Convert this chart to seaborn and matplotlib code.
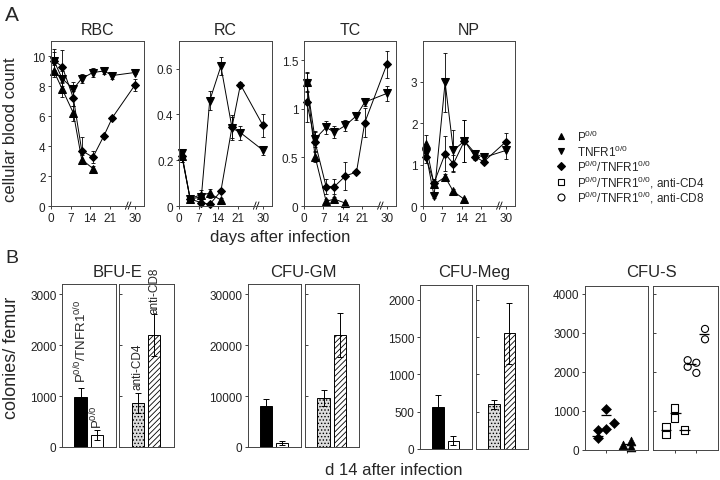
import matplotlib
matplotlib.use("Agg")
import matplotlib.pyplot as plt
from matplotlib.lines import Line2D
import seaborn as sns


# ---------------- Panel A data (days after infection) ----------------
days = [1, 4, 8, 11, 15, 19, 22, 30]
days_p00 = [1, 4, 8, 11, 15]

rbc_p00 = [9.0, 7.8, 6.2, 3.1, 2.5]
rbc_p00_err = [0.4, 0.5, 0.5, 0.3, 0.2]
rbc_tnfr = [9.7, 8.5, 7.8, 8.5, 8.9, 9.0, 8.7, 8.9]
rbc_tnfr_err = [0.6, 0.5, 0.5, 0.3, 0.3, 0.2, 0.2, 0.1]
rbc_dko = [9.7, 9.3, 7.2, 3.7, 3.25, 4.7, 5.9, 8.05]
rbc_dko_err = [0.8, 1.1, 0.5, 0.9, 0.4, 0.1, 0.1, 0.4]

rc_p00 = [0.22, 0.032, 0.05, 0.055, 0.026]
rc_p00_err = [0.03, 0.01, 0.02, 0.02, 0.01]
rc_tnfr = [0.23, 0.03, 0.04, 0.46, 0.61, 0.34, 0.32, 0.244]
rc_tnfr_err = [0.02, 0.01, 0.01, 0.04, 0.04, 0.05, 0.03, 0.02]
rc_dko = [0.22, 0.03, 0.015, 0.007, 0.065, 0.346, 0.53, 0.353]
rc_dko_err = [0.03, 0.01, 0.01, 0.005, 0.01, 0.05, 0.01, 0.05]

tc_p00 = [1.28, 0.51, 0.05, 0.07, 0.03]
tc_p00_err = [0.1, 0.06, 0.02, 0.02, 0.01]
tc_tnfr = [1.27, 0.69, 0.81, 0.76, 0.83, 0.93, 1.07, 1.16]
tc_tnfr_err = [0.1, 0.08, 0.07, 0.06, 0.06, 0.04, 0.04, 0.08]
tc_dko = [1.07, 0.66, 0.2, 0.2, 0.31, 0.35, 0.86, 1.46]
tc_dko_err = [0.2, 0.1, 0.08, 0.08, 0.14, 0.02, 0.15, 0.14]

np_p00 = [1.49, 0.52, 0.70, 0.35, 0.16]
np_p00_err = [0.22, 0.05, 0.06, 0.05, 0.03]
np_tnfr = [1.29, 0.24, 2.98, 1.34, 1.57, 1.26, 1.17, 1.34]
np_tnfr_err = [0.1, 0.05, 0.72, 0.5, 0.5, 0.08, 0.05, 0.2]
np_dko = [1.18, 0.56, 1.26, 1.02, 1.57, 1.18, 1.07, 1.55]
np_dko_err = [0.15, 0.1, 0.42, 0.2, 0.5, 0.08, 0.05, 0.22]

day_ticks = [0, 7, 14, 21, 30]

# ---------------- Panel B data (d 14 after infection) ----------------
mice = ["P0/0/TNFR1 0/0", "P0/0"]
antibodies = ["anti-CD4", "anti-CD8"]

bfu_mice = [980, 240]
bfu_mice_err = [170, 95]
bfu_ab = [860, 2200]
bfu_ab_err = [195, 420]

gm_mice = [8000, 700]
gm_mice_err = [1500, 400]
gm_ab = [9600, 22000]
gm_ab_err = [1500, 4300]

meg_mice = [560, 110]
meg_mice_err = [160, 60]
meg_ab = [600, 1550]
meg_ab_err = [60, 410]

# CFU-S single mice (column position, value) and group means
cfus_dko_x = [0.6, 0.6, 1.0, 1.0, 1.4]
cfus_dko = [300, 515, 540, 1055, 695]
cfus_p00_x = [1.8, 2.2, 2.2]
cfus_p00 = [130, 240, 85]
cfus_cd4_x = [0.6, 0.6, 1.0, 1.0, 1.45]
cfus_cd4 = [610, 395, 1075, 817, 515]
cfus_cd8_x = [1.6, 1.6, 2.0, 2.0, 2.4, 2.4]
cfus_cd8 = [2300, 2130, 2235, 1975, 3100, 2835]

cfus_mean_left_x = [0.6, 1.0, 2.0]
cfus_mean_left = [370, 885, 155]
cfus_mean_right_x = [0.6, 1.05, 1.45, 1.75, 2.35]
cfus_mean_right = [515, 955, 523, 2190, 2960]


sns.set_style("ticks")
plt.rcParams["font.family"] = ["Liberation Sans", "DejaVu Sans"]
plt.rcParams["mathtext.default"] = "regular"
plt.rcParams["hatch.linewidth"] = 0.6
plt.rcParams["axes.linewidth"] = 0.7
plt.rcParams["axes.edgecolor"] = "#444444"

W, H = 720, 481
fig = plt.figure(figsize=(7.2, 4.81), dpi=100)


def px_rect(l, t, r, b):
    return [l / W, 1 - b / H, (r - l) / W, (b - t) / H]


def style_box(ax, labels=True):
    for s in ax.spines.values():
        s.set_visible(True)
        s.set_linewidth(0.7)
    ax.tick_params(axis="both", length=2.5, width=0.6, labelsize=8.5, pad=1.5,
                   colors="#222222")
    if not labels:
        ax.tick_params(axis="y", direction="in", labelleft=False)
    ax.set_xlabel("")
    ax.set_ylabel("")


# ---------------- Panel A ----------------
panels_a = [
    ("RBC", (51, 42, 144, 207), 11.0, [0, 2, 4, 6, 8, 10], ["0", "2", "4", "6", "8", "10"],
     rbc_p00, rbc_p00_err, rbc_tnfr, rbc_tnfr_err, rbc_dko, rbc_dko_err),
    ("RC", (179, 42, 272, 207), 0.72, [0, 0.2, 0.4, 0.6], ["0", "0.2", "0.4", "0.6"],
     rc_p00, rc_p00_err, rc_tnfr, rc_tnfr_err, rc_dko, rc_dko_err),
    ("TC", (304, 42, 396, 207), 1.70, [0, 0.5, 1, 1.5], ["0", "0.5", "1", "1.5"],
     tc_p00, tc_p00_err, tc_tnfr, tc_tnfr_err, tc_dko, tc_dko_err),
    ("NP", (423, 42, 515, 207), 3.98, [0, 1, 2, 3], ["0", "1", "2", "3"],
     np_p00, np_p00_err, np_tnfr, np_tnfr_err, np_dko, np_dko_err),
]

for name, box, ytop, yt, ytl, p00, p00e, tnfr, tnfre, dko, dkoe in panels_a:
    ax = fig.add_axes(px_rect(*box))
    series = [
        (days_p00, p00, p00e, "^", 6),
        (days, tnfr, tnfre, "v", 6),
        (days, dko, dkoe, "D", 4.5),
    ]
    for xs, ys, es, mk, ms in series:
        ax.errorbar(xs, ys, yerr=es, fmt="none", ecolor="k", elinewidth=0.6,
                    capsize=1.5, capthick=0.6, clip_on=False)
        sns.lineplot(x=xs, y=ys, ax=ax, color="k", marker=mk, markersize=ms,
                     markeredgecolor="k", linewidth=0.7, clip_on=False)
    ax.set_xlim(0, 33.3)
    ax.set_ylim(0, ytop)
    ax.set_xticks(day_ticks)
    ax.set_xticklabels([str(d) for d in day_ticks])
    ax.set_yticks(yt)
    ax.set_yticklabels(ytl)
    style_box(ax)
    ax.set_title(name, fontsize=11.5, pad=5)
    # axis break marks between 21 and 30
    for dx in (0.0, 0.03):
        ax.plot([0.80 + dx, 0.83 + dx], [-0.02, 0.025], transform=ax.transAxes,
                color="k", lw=0.6, clip_on=False)

fig.text(5 / W, 1 - 6 / H, "A", fontsize=15, va="top", ha="left")
fig.text(11 / W, 1 - 130 / H, "cellular blood count", rotation=90, fontsize=12,
         ha="center", va="center")
fig.text(280 / W, 1 - 238 / H, "days after infection", fontsize=12,
         ha="center", va="center")

# legend
legend_rows = [
    ("^", "k", "P$^{0/0}$"),
    ("v", "k", "TNFR1$^{0/0}$"),
    ("D", "k", "P$^{0/0}$/TNFR1$^{0/0}$"),
    ("s", "none", "P$^{0/0}$/TNFR1$^{0/0}$, anti-CD4"),
    ("o", "none", "P$^{0/0}$/TNFR1$^{0/0}$, anti-CD8"),
]
for i, (mk, fc, lab) in enumerate(legend_rows):
    yy = 1 - (137 + i * 15.2) / H
    fig.add_artist(Line2D([561 / W], [yy], marker=mk, markersize=5 if mk != "D" else 3.8,
                          markerfacecolor=fc, markeredgecolor="k", markeredgewidth=0.8,
                          linestyle="none", transform=fig.transFigure))
    fig.text(577 / W, yy, lab, fontsize=8.5, va="center", ha="left")


# ---------------- Panel B ----------------
def bar_pair(box1, box2, top, yt, vals1, err1, vals2, err2, title):
    ax1 = fig.add_axes(px_rect(*box1))
    ax2 = fig.add_axes(px_rect(*box2))
    for ax, cats, vals, errs, faces, hatches in [
        (ax1, mice, vals1, err1, ["k", "white"], ["", ""]),
        (ax2, antibodies, vals2, err2, ["#dcdcdc", "white"], [".....", "//////"]),
    ]:
        sns.barplot(x=cats, y=vals, ax=ax, width=0.75, color="white",
                    edgecolor="k", linewidth=0.7)
        for patch, fcol, hat in zip(ax.patches, faces, hatches):
            patch.set_facecolor(fcol)
            patch.set_hatch(hat)
        ax.errorbar([0, 1], vals, yerr=errs, fmt="none", ecolor="k",
                    elinewidth=0.7, capsize=2, capthick=0.7)
        ax.set_xlim(-1.15, 2.2)
        ax.set_ylim(0, top)
        ax.set_yticks(yt)
        ax.set_xticks([])
    style_box(ax1)
    ax1.set_yticklabels([str(v) for v in yt])
    style_box(ax2, labels=False)
    cx = (box1[0] + box2[2]) / 2
    fig.text(cx / W, 1 - 273 / H, title, fontsize=12, ha="center", va="center")
    return ax1, ax2


b1, b2 = bar_pair((62, 285, 116, 448), (119, 285, 174, 448), 3200,
                  [0, 1000, 2000, 3000], bfu_mice, bfu_mice_err, bfu_ab, bfu_ab_err, "BFU-E")
b1.text(0, bfu_mice[0] + bfu_mice_err[0] + 120, "P$^{0/0}$/TNFR1$^{0/0}$", rotation=90,
        ha="center", va="bottom", fontsize=9.5)
b1.text(1, bfu_mice[1] + bfu_mice_err[1] + 40, "P$^{0/0}$", rotation=90,
        ha="center", va="bottom", fontsize=9.5)
b2.text(0, bfu_ab[0] + bfu_ab_err[0] + 80, antibodies[0], rotation=90,
        ha="center", va="bottom", fontsize=8.5)
b2.text(1, bfu_ab[1] + bfu_ab_err[1] + 20, antibodies[1], rotation=90,
        ha="center", va="bottom", fontsize=8.5)

bar_pair((248, 285, 301, 448), (305, 285, 359, 448), 32000,
         [0, 10000, 20000, 30000], gm_mice, gm_mice_err, gm_ab, gm_ab_err, "CFU-GM")
bar_pair((420, 286, 472, 450), (476, 286, 528, 450), 2200,
         [0, 500, 1000, 1500, 2000], meg_mice, meg_mice_err, meg_ab, meg_ab_err, "CFU-Meg")

# CFU-S scatter
s1 = fig.add_axes(px_rect(585, 287, 648, 451))
s2 = fig.add_axes(px_rect(653, 287, 718, 451))
sns.scatterplot(x=cfus_dko_x, y=cfus_dko, ax=s1, marker="D", s=26, color="k",
                edgecolor="k", clip_on=False)
sns.scatterplot(x=cfus_p00_x, y=cfus_p00, ax=s1, marker="^", s=40, color="k",
                edgecolor="k", clip_on=False)
s1.hlines(cfus_mean_left, [x - 0.25 for x in cfus_mean_left_x],
          [x + 0.25 for x in cfus_mean_left_x], color="k", lw=0.9)
sns.scatterplot(x=cfus_cd4_x, y=cfus_cd4, ax=s2, marker="s", s=28, color="k",
                edgecolor="k", linewidth=0.8)
s2.collections[-1].set_facecolor("none")
sns.scatterplot(x=cfus_cd8_x, y=cfus_cd8, ax=s2, marker="o", s=26, color="k",
                edgecolor="k", linewidth=0.8)
s2.collections[-1].set_facecolor("none")
s2.hlines(cfus_mean_right, [x - 0.25 for x in cfus_mean_right_x],
          [x + 0.25 for x in cfus_mean_right_x], color="k", lw=0.9)
for ax in (s1, s2):
    ax.set_xlim(0, 3)
    ax.set_ylim(0, 4200)
    ax.set_xticks([1, 2])
    ax.set_xticklabels([])
    ax.set_yticks([0, 1000, 2000, 3000, 4000])
style_box(s1)
s1.set_yticklabels(["0", "1000", "2000", "3000", "4000"])
style_box(s2, labels=False)
fig.text(((585 + 718) / 2) / W, 1 - 273 / H, "CFU-S", fontsize=12,
         ha="center", va="center")

fig.text(5 / W, 1 - 250 / H, "B", fontsize=14, va="top", ha="left")
fig.text(12 / W, 1 - 358 / H, "colonies/ femur", rotation=90, fontsize=13,
         ha="center", va="center")
fig.text(394 / W, 1 - 471 / H, "d 14 after infection", fontsize=12,
         ha="center", va="center")

fig.savefig("out.png", dpi=100)
